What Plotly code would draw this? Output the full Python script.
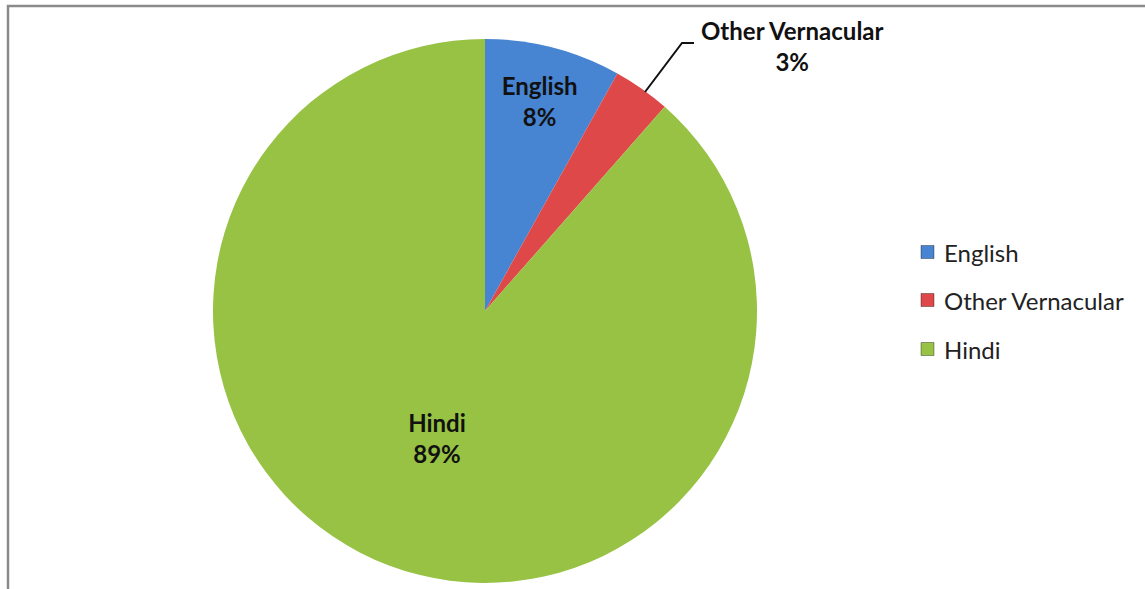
import plotly.graph_objects as go

labels = ["English", "Other Vernacular", "Hindi"]
values = [8.1, 3.4, 88.6]
colors = ["#4784D2", "#DF4848", "#97C244"]

W, H = 1145, 589
def px(x): return x / W
def py(y): return 1 - y / H

total = sum(values)
pct = [round(v / total * 100) for v in values]

templates = ["<b>%{label}<br>%{percent:.0%}</b>", "", "<b>%{label}<br>%{percent:.0%}</b>"]

fig = go.Figure()
fig.add_trace(go.Pie(
    labels=labels, values=values, sort=False, direction="clockwise", rotation=0,
    marker=dict(colors=colors, line=dict(width=0)),
    texttemplate=templates, textposition="inside", insidetextorientation="horizontal",
    textfont=dict(family="Lato", size=24, color="#111111"),
    domain=dict(x=[px(485 - 272), px(485 + 272)], y=[py(311 + 272), py(311 - 272)]),
    showlegend=False, hoverinfo="label+percent",
))

# Other Vernacular outside label with leader line
fig.add_annotation(
    x=px(792), y=py(46), xref="paper", yref="paper",
    text=f"<b>{labels[1]}<br>{pct[1]}%</b>", showarrow=False,
    font=dict(family="Lato", size=24, color="#111111"),
    align="center", xanchor="center", yanchor="middle",
)
fig.add_shape(type="path", xref="paper", yref="paper",
              path=f"M {px(645)} {py(92)} L {px(682)} {py(43)} L {px(694)} {py(43)}",
              line=dict(color="#111111", width=2))

# manual legend
leg_y = [252, 300, 349]
for lab, col, yy in zip(labels, colors, leg_y):
    fig.add_shape(type="rect", xref="paper", yref="paper",
                  x0=px(921), x1=px(934), y0=py(yy + 6.5), y1=py(yy - 6.5),
                  fillcolor=col, line=dict(color="rgba(0,0,0,0.35)", width=1))
    fig.add_annotation(x=px(942), y=py(yy), xref="paper", yref="paper",
                       text=lab, showarrow=False, xanchor="left", yanchor="middle",
                       font=dict(family="Lato", size=24, color="#222222"))

# chart border
fig.add_shape(type="rect", xref="paper", yref="paper",
              x0=px(8), x1=px(W + 10), y0=py(H + 10), y1=py(6),
              line=dict(color="#8a8a8a", width=2.5), fillcolor="rgba(0,0,0,0)")

fig.update_layout(width=W, height=H, margin=dict(l=0, r=0, t=0, b=0),
                  paper_bgcolor="white", plot_bgcolor="white", showlegend=False)

fig.write_html("out.html")
